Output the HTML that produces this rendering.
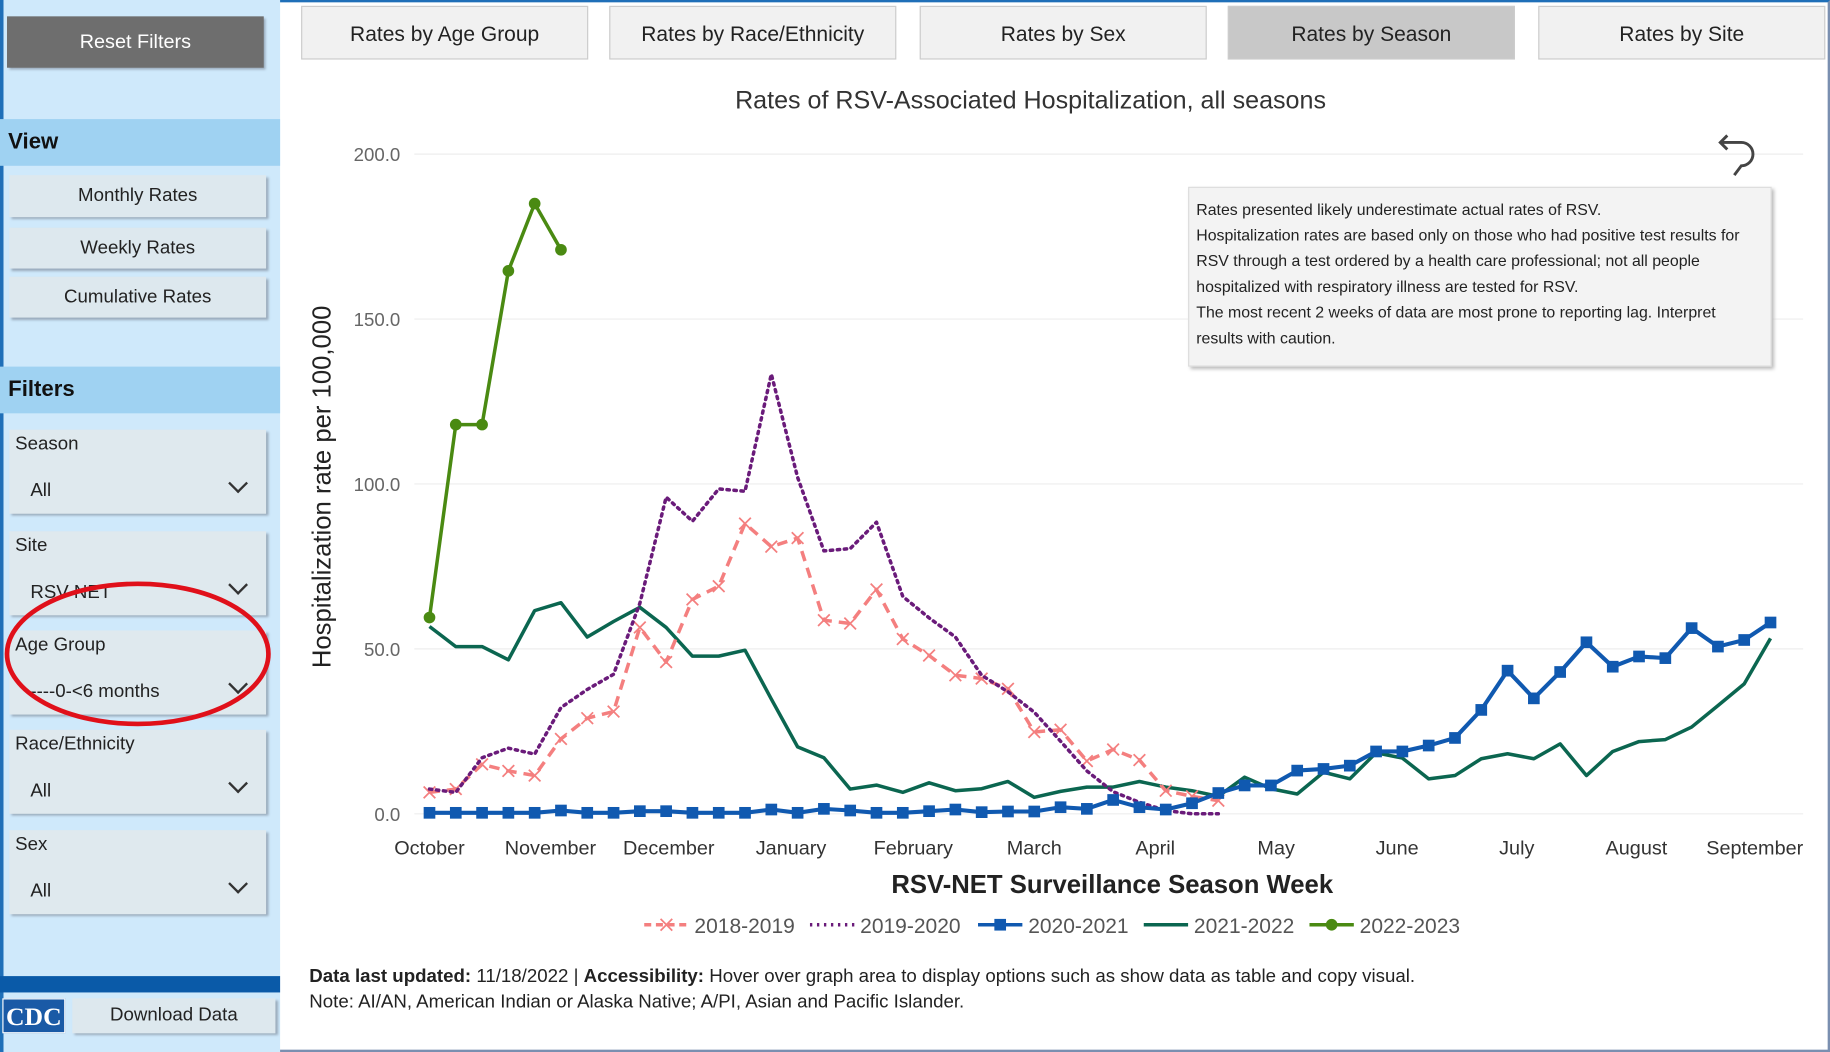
<!DOCTYPE html>
<html><head><meta charset="utf-8">
<style>
html,body{margin:0;padding:0;background:#fff;overflow:hidden;width:1830px;height:1052px}
#wrap{position:absolute;left:0;top:0;width:1568px;height:901px;transform-origin:0 0;transform:scale(1.16709,1.16759);font-family:"Liberation Sans",sans-serif;}
.abs{position:absolute;box-sizing:border-box}
#side{left:0;top:0;width:240px;height:901px;background:#cfe9fb}
.btn{position:absolute;left:8px;width:220px;background:#dde8ee;color:#222;font-size:16px;text-align:center;box-shadow:2px 2px 2px #9ab;}
.hdr{position:absolute;left:0;width:240px;height:40px;background:#9fd2f2;font-weight:bold;font-size:19px;line-height:40px;padding-left:7px;box-sizing:border-box;color:#111}
.filt{position:absolute;left:8px;width:220px;height:72px;background:#dfe9ee;box-shadow:2px 2px 2px #9ab;font-size:16px;color:#222}
.filt .l{position:absolute;left:5px;top:4px}
.filt .v{position:absolute;left:18px;top:44px}
.filt .c{position:absolute;right:18px;width:10px;height:10px;border-right:2px solid #333;border-bottom:2px solid #333;transform:rotate(45deg);top:40px}
.tab{position:absolute;top:5px;height:46px;width:246px;background:#f1f1f1;border:1px solid #ccc;box-sizing:border-box;font-size:18px;text-align:center;line-height:46px;color:#222}
</style></head><body>
<div id="wrap">
<div class="abs" style="left:0;top:0;width:1568px;height:901px;border-right:2px solid #7a8fb0;border-bottom:2px solid #7a8fb0;border-top:2px solid #1f6fb8"></div>
<div id="side" class="abs">
 <div class="abs" style="left:0;top:0;width:3px;height:901px;background:#1f6fb8"></div>
 <div class="btn" style="left:6px;top:14px;height:44px;line-height:44px;background:#6e6e6e;color:#fff;font-size:17px">Reset Filters</div>
 <div class="hdr" style="top:102px">View</div>
 <div class="btn" style="top:150px;height:36px;line-height:36px">Monthly Rates</div>
 <div class="btn" style="top:195px;height:35px;line-height:35px">Weekly Rates</div>
 <div class="btn" style="top:237px;height:35px;line-height:35px">Cumulative Rates</div>
 <div class="hdr" style="top:314px">Filters</div>
 <div class="filt" style="top:368px"><span class="l">Season</span><span class="v">All</span><span class="c"></span></div>
 <div class="filt" style="top:455px"><span class="l">Site</span><span class="v">RSV-NET</span><span class="c"></span></div>
 <div class="filt" style="top:540px"><span class="l">Age Group</span><span class="v">----0-&lt;6 months</span><span class="c"></span></div>
 <div class="filt" style="top:625px"><span class="l">Race/Ethnicity</span><span class="v">All</span><span class="c"></span></div>
 <div class="filt" style="top:711px"><span class="l">Sex</span><span class="v">All</span><span class="c"></span></div>
 <div class="abs" style="left:0;top:836px;width:240px;height:14px;background:#0a5aa8"></div>
 <div class="abs" style="left:2px;top:855px;width:54px;height:30px;background:#1a5aa6;color:#fff;font-family:'Liberation Serif',serif;font-weight:bold;font-size:22px;text-align:center;line-height:30px;border:1px solid #fff">CDC</div>
 <div class="btn" style="left:62px;top:855px;width:174px;height:30px;line-height:30px">Download Data</div>
</div>
<svg class="abs" style="left:0;top:0" width="240" height="901"><ellipse cx="118" cy="560" rx="112" ry="60" fill="none" stroke="#e0101a" stroke-width="4"/></svg>

<div class="tab" style="left:258px">Rates by Age Group</div>
<div class="tab" style="left:522px">Rates by Race/Ethnicity</div>
<div class="tab" style="left:788px">Rates by Sex</div>
<div class="tab" style="left:1052px;background:#c8c8c8">Rates by Season</div>
<div class="tab" style="left:1318px">Rates by Site</div>

<svg id="chart" class="abs" style="left:0;top:0" width="1568" height="901"></svg>

<div class="abs" style="left:1018px;top:160px;width:500px;height:154px;background:#f3f3f3;border:1px solid #ddd;box-shadow:2px 2px 3px #bbb;font-size:13.6px;line-height:22px;padding:8px 6px;color:#222">Rates presented likely underestimate actual rates of RSV.<br>Hospitalization rates are based only on those who had positive test results for RSV through a test ordered by a health care professional; not all people hospitalized with respiratory illness are tested for RSV.<br>The most recent 2 weeks of data are most prone to reporting lag. Interpret results with caution.</div>

<div class="abs" style="left:265px;top:826px;font-size:16px;line-height:22px;color:#222"><b>Data last updated:</b> 11/18/2022 | <b>Accessibility:</b> Hover over graph area to display options such as show data as table and copy visual.<br>Note: AI/AN, American Indian or Alaska Native; A/PI, Asian and Pacific Islander.</div>
</div>
<script>
const yTicks=[0,50,100,150,200];
const monthLabels=["October","November","December","January","February","March","April","May","June","July","August","September"];
const monthWeeks=[0,4.6,9.1,13.75,18.4,23,27.6,32.2,36.8,41.35,45.9,50.4];
const seriesNames=["2018-2019","2019-2020","2020-2021","2021-2022","2022-2023"];
const s2018=[6.5,7.5,15,13,11.6,22.7,29,31,56.5,46,65,69,88,81,83.6,58.7,57.7,68,53,48,42,41,37.9,24.8,25.5,16,19.5,16.3,7,5.3,4];
const s2019=[7.5,6.5,17,19.9,18.1,32.2,37.7,42.3,63.8,96,88.7,98.5,97.8,133.3,102,79.7,80.4,88.4,65.9,59.4,53.6,42,37,30.8,22,13,6.7,3.5,1,0,0];
const s2020=[0.3,0.3,0.3,0.3,0.3,1,0.3,0.3,0.8,0.8,0.3,0.3,0.3,1.3,0.3,1.5,1,0.3,0.3,0.8,1.3,0.5,0.7,0.7,2,1.5,4.2,2,1.3,3.2,6.3,8.6,8.6,13.1,13.6,14.6,18.9,18.9,20.7,23,31.5,43.4,35,43,52,44.6,47.7,47.2,56.3,50.7,52.7,58];
const s2021=[56.8,50.7,50.7,46.7,61.6,64,53.6,58.3,62.6,56.5,47.8,47.8,49.6,34.8,20.3,17,7.5,8.7,6.5,9.4,7,7.6,9.8,5,6.8,8.1,8.1,9.8,8.1,7,5.3,11.1,7.6,6,12.6,10.6,18.5,16.9,10.6,11.6,16.7,18.2,16.7,21.2,11.6,18.9,21.9,22.5,26.3,32.8,39.4,53.2];
const s2022=[59.5,118,118,164.6,185,171];

const NS="http://www.w3.org/2000/svg";
const svg=document.getElementById('chart');
const X=w=>368+w*22.53;
const Y=v=>697-v*2.825;
function mk(t,a,p){const e=document.createElementNS(NS,t);for(const k in a)e.setAttribute(k,a[k]);(p||svg).appendChild(e);return e;}
function txt(x,y,s,a,p){const e=mk('text',Object.assign({x:x,y:y,'font-family':'Liberation Sans, sans-serif'},a),p);e.textContent=s;return e;}
let t=txt(883,93,"Rates of RSV-Associated Hospitalization, all seasons",{'font-size':21.5,'text-anchor':'middle',fill:'#333'});


yTicks.forEach(v=>{
 const g=mk('line',{x1:355,x2:1545,y1:Y(v),y2:Y(v),stroke:'#eee','stroke-width':1});
 
 
 const l=txt(343,Y(v)+6,v.toFixed(1),{'font-size':16,'text-anchor':'end',fill:'#666'});
 
 
});
monthLabels.forEach((m,i)=>{
 const l=txt(X(monthWeeks[i]),732,m,{'font-size':17,'text-anchor':'middle',fill:'#333'});
 
 
});
t=txt(953,765,"RSV-NET Surveillance Season Week",{'font-size':22,'text-anchor':'middle',fill:'#222','font-weight':'bold'});


t=txt(0,0,"Hospitalization rate per 100,000",{'font-size':22,'text-anchor':'middle',fill:'#222',transform:'translate(283,417) rotate(-90)'});


const u=mk('path',{d:'M1480 128 L1474 122 L1480 116 M1474 122 L1492 122 A10 10 0 0 1 1492 142 L1486 150',fill:'none',stroke:'#444','stroke-width':2.5});



const styles=[
 {c:'#f47f7f',w:3,d:'9,6',m:'x'},
 {c:'#6a1b7a',w:3,d:'2,4',m:null},
 {c:'#1059b0',w:3.5,d:null,m:'sq'},
 {c:'#0b6650',w:3,d:null,m:null},
 {c:'#4a8a12',w:3,d:null,m:'dot'}];
const data=[s2018,s2019,s2020,s2021,s2022];
function marker(s,x,y,p){
 if(s.m==='x'){mk('path',{d:`M${x-5} ${y-5}L${x+5} ${y+5}M${x-5} ${y+5}L${x+5} ${y-5}`,stroke:s.c,'stroke-width':1.5,fill:'none'},p);}
 else if(s.m==='sq'){mk('rect',{x:x-5,y:y-5,width:10,height:10,fill:s.c},p);}
 else if(s.m==='dot'){mk('circle',{cx:x,cy:y,r:5,fill:s.c},p);}
}
[3,0,1,2,4].forEach(i=>{
 const s=styles[i],arr=data[i];
 const g=mk('g',{});
 
 
 const a={points:arr.map((v,j)=>X(j)+','+Y(v)).join(' '),fill:'none',stroke:s.c,'stroke-width':s.w,'stroke-linejoin':'round'};
 if(s.d)a['stroke-dasharray']=s.d;
 if(i===1)a['stroke-linecap']='round';
 mk('polyline',a,g);
 arr.forEach((v,j)=>marker(s,X(j),Y(v),g));
});
const legX=[552,694,838,980,1122];
seriesNames.forEach((n,i)=>{
 const s=styles[i],x=legX[i],y=792;
 const g=mk('g',{});
 
 
 const a={x1:x,x2:x+38,y1:y,y2:y,stroke:s.c,'stroke-width':3};
 if(s.d)a['stroke-dasharray']=s.d==='2,4'?'2,4':'6,4';
 mk('line',a,g);
 marker(s,x+19,y,g);
 txt(x+43,y+7,n,{'font-size':18,fill:'#555'},g);
});
</script>
</body></html>
